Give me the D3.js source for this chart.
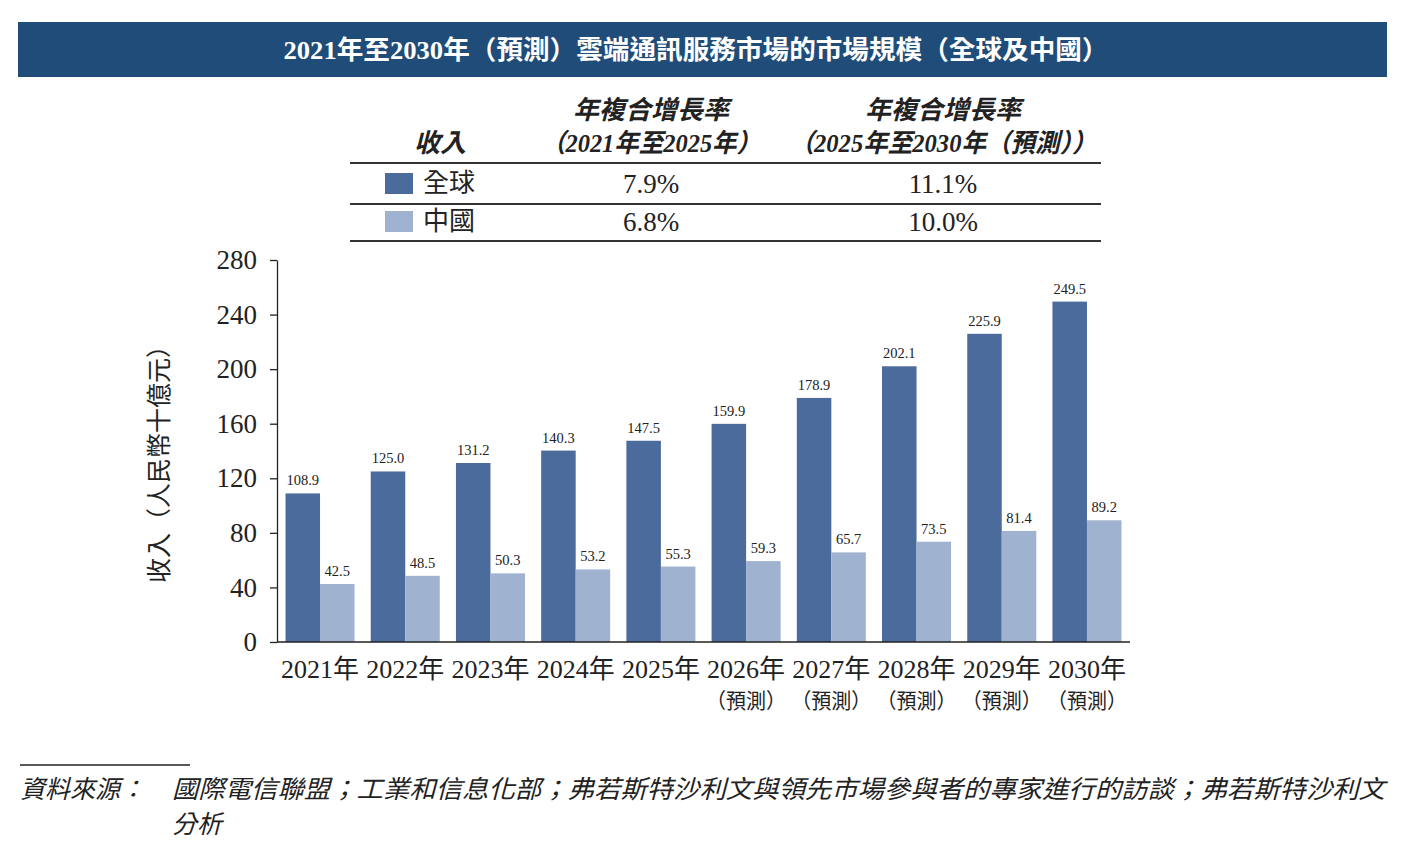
<!DOCTYPE html>
<html>
<head>
<meta charset="utf-8">
<script src="https://cdn.jsdelivr.net/npm/d3@7"></script>
<style>
	body { margin: 0; background: #fff; }
	text { font-family: "Liberation Serif", "Noto Sans CJK TC", serif; }
</style>
</head>
<body>
<script>
'use strict';

// Chart data
const years = ["2021年", "2022年", "2023年", "2024年", "2025年", "2026年", "2027年", "2028年", "2029年", "2030年"];
const forecast = [false, false, false, false, false, true, true, true, true, true];
const globalValues = [108.9, 125.0, 131.2, 140.3, 147.5, 159.9, 178.9, 202.1, 225.9, 249.5];
const chinaValues = [42.5, 48.5, 50.3, 53.2, 55.3, 59.3, 65.7, 73.5, 81.4, 89.2];
const yTicks = [0, 40, 80, 120, 160, 200, 240, 280];
const seriesNames = ["全球", "中國"];
const cagr1 = ["7.9%", "6.8%"];
const cagr2 = ["11.1%", "10.0%"];

const colors = ["#4b6b9c", "#9fb2cf"];
const W = 1410, H = 868;

const svg = d3.select("body").append("svg")
	.attr("width", W)
	.attr("height", H);

// Title bar
svg.append("rect")
	.attr("x", 18).attr("y", 22)
	.attr("width", 1369).attr("height", 55)
	.attr("fill", "#1f4c78");
svg.append("text")
	.attr("x", 696).attr("y", 59)
	.attr("text-anchor", "middle")
	.attr("fill", "#fff")
	.attr("font-size", 26)
	.attr("font-weight", "bold")
	.attr("textLength", 825)
	.attr("lengthAdjust", "spacingAndGlyphs")
	.text("2021年至2030年（預測）雲端通訊服務市場的市場規模（全球及中國）");

// CAGR table
const tbl = svg.append("g").attr("fill", "#222");
const col1 = 651, col2 = 943;
const headStyle = sel => sel.attr("text-anchor", "middle").attr("font-size", 26)
	.attr("font-weight", "bold").attr("font-style", "italic");
tbl.append("text").attr("x", 440).attr("y", 152).call(headStyle).text("收入");
[col1, col2].forEach(c => {
	tbl.append("text").attr("x", c).attr("y", 119).call(headStyle).text("年複合增長率");
});
tbl.append("text").attr("x", col1).attr("y", 152).call(headStyle)
	.attr("textLength", 220).attr("lengthAdjust", "spacingAndGlyphs")
	.text("（2021年至2025年）");
tbl.append("text").attr("x", col2).attr("y", 152).call(headStyle)
	.attr("textLength", 307).attr("lengthAdjust", "spacingAndGlyphs")
	.text("（2025年至2030年（預測））");

[163, 204, 241].forEach(y => {
	tbl.append("line").attr("x1", 350).attr("x2", 1101).attr("y1", y).attr("y2", y)
		.attr("stroke", "#333").attr("stroke-width", 2);
});

seriesNames.forEach((name, i) => {
	const y = 183 + i * 38;
	tbl.append("rect").attr("x", 385).attr("y", y - 10).attr("width", 28).attr("height", 21)
		.attr("fill", colors[i]);
	tbl.append("text").attr("x", 423).attr("y", y + 9).attr("font-size", 26).text(name);
	tbl.append("text").attr("x", col1).attr("y", y + 10).attr("text-anchor", "middle")
		.attr("font-size", 27).text(cagr1[i]);
	tbl.append("text").attr("x", col2).attr("y", y + 10).attr("text-anchor", "middle")
		.attr("font-size", 27).text(cagr2[i]);
});

// Scales
const x0 = d3.scaleBand()
	.domain(years)
	.range([277, 1130])
	.paddingInner(0.19)
	.paddingOuter(0.1);
const x1 = d3.scaleBand()
	.domain([0, 1])
	.range([0, x0.bandwidth()]);
const y = d3.scaleLinear()
	.domain([0, 280])
	.range([642, 260]);

// Y axis
const yAxis = svg.append("g")
	.attr("transform", "translate(277,0)")
	.call(d3.axisLeft(y).tickValues(yTicks).tickSize(7).tickSizeOuter(0).tickPadding(13));
yAxis.selectAll("text").attr("font-size", 27).attr("fill", "#222");
yAxis.selectAll("line, path").attr("stroke", "#222").attr("stroke-width", 1.3);

svg.append("text")
	.attr("transform", "translate(168,458) rotate(-90)")
	.attr("text-anchor", "middle")
	.attr("font-size", 25)
	.attr("fill", "#222")
	.text("收入（人民幣十億元）");

// Bars
const groups = svg.append("g").selectAll("g")
	.data(years)
	.join("g")
	.attr("transform", d => `translate(${x0(d)},0)`);

[globalValues, chinaValues].forEach((vals, s) => {
	groups.append("rect")
		.attr("x", x1(s))
		.attr("y", (d, i) => y(vals[i]))
		.attr("width", x1.bandwidth())
		.attr("height", (d, i) => y(0) - y(vals[i]))
		.attr("fill", colors[s]);
	groups.append("text")
		.attr("x", x1(s) + x1.bandwidth() / 2)
		.attr("y", (d, i) => y(vals[i]) - 8)
		.attr("text-anchor", "middle")
		.attr("font-size", 14.5)
		.attr("fill", "#222")
		.text((d, i) => vals[i].toFixed(1));
});

// X axis
svg.append("line")
	.attr("x1", 277).attr("x2", 1130)
	.attr("y1", y(0)).attr("y2", y(0))
	.attr("stroke", "#222").attr("stroke-width", 1.5);

const xl = svg.append("g").attr("fill", "#222");
years.forEach((yr, i) => {
	const cx = x0(yr) + x0.bandwidth() / 2;
	xl.append("text").attr("x", cx).attr("y", 678).attr("text-anchor", "middle")
		.attr("font-size", 26).text(yr);
	if (forecast[i]) {
		xl.append("text").attr("x", cx).attr("y", 708).attr("text-anchor", "middle")
			.attr("font-size", 21)
			.attr("textLength", 80).attr("lengthAdjust", "spacingAndGlyphs")
			.text("（預測）");
	}
});

// Source
svg.append("line").attr("x1", 20).attr("x2", 190).attr("y1", 765).attr("y2", 765)
	.attr("stroke", "#222").attr("stroke-width", 1.5);
const src = svg.append("g").attr("font-style", "italic").attr("fill", "#222").attr("font-size", 25);
src.append("text").attr("x", 20).attr("y", 798).text("資料來源：");
src.append("text").attr("x", 172).attr("y", 798)
	.attr("textLength", 1213).attr("lengthAdjust", "spacingAndGlyphs")
	.text("國際電信聯盟；工業和信息化部；弗若斯特沙利文與領先市場參與者的專家進行的訪談；弗若斯特沙利文");
src.append("text").attr("x", 172).attr("y", 833).text("分析");
</script>
</body>
</html>
